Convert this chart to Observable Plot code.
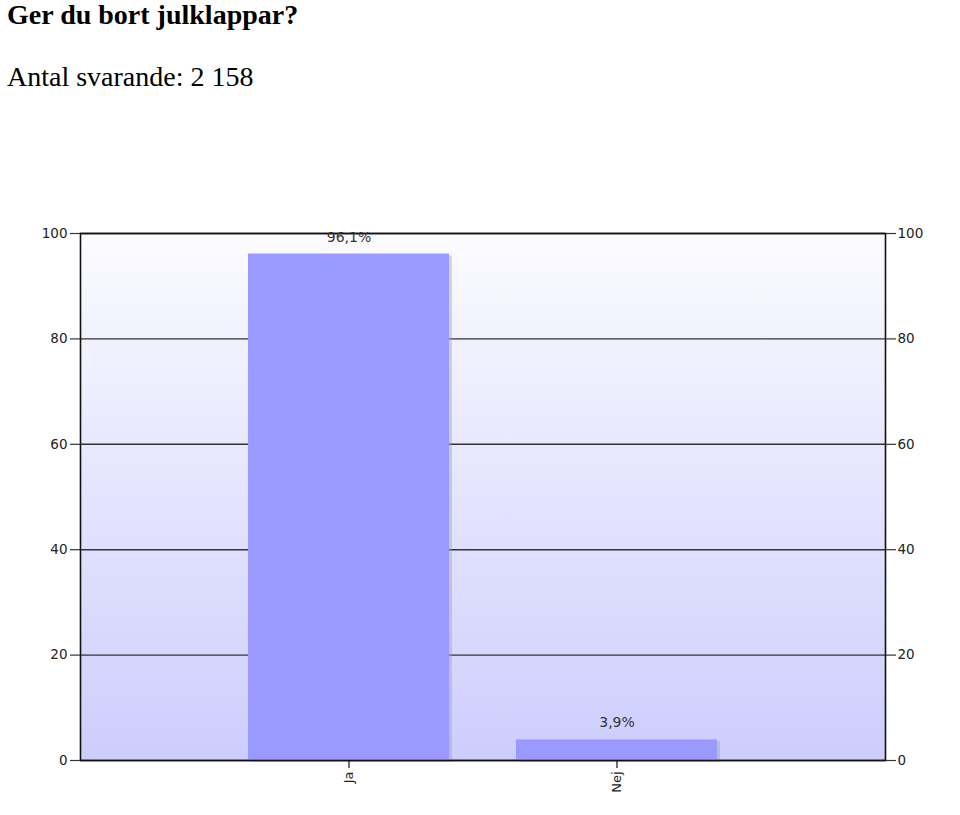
<!DOCTYPE html>
<html>
<head>
<meta charset="utf-8">
<script src="https://cdn.jsdelivr.net/npm/d3@7"></script>
<script src="https://cdn.jsdelivr.net/npm/@observablehq/plot@0.6"></script>
<style>
  html, body { margin: 0; padding: 0; background: #fff; width: 960px; height: 815px; overflow: hidden; }
  #title { position: absolute; left: 7px; top: 1px; font-family: "Liberation Serif", "Times New Roman", serif; font-weight: bold; font-size: 28px; line-height: 28px; margin: 0; white-space: nowrap; }
  #subtitle { position: absolute; left: 7px; top: 63px; font-family: "Liberation Serif", "Times New Roman", serif; font-size: 28px; line-height: 28px; margin: 0; white-space: nowrap; }
  #chart { position: absolute; left: 0; top: 200px; }
</style>
</head>
<body>
<h1 id="title">Ger du bort julklappar?</h1>
<p id="subtitle">Antal svarande: 2 158</p>
<div id="chart"></div>
<script>
const categories = ["Ja", "Nej"];
const values = [96.1, 3.9];
const yTicks = [0, 20, 40, 60, 80, 100];

const data = categories.map((c, i) => ({category: c, value: values[i]}));
const fmt = v => d3.format(".1f")(v).replace(".", ",") + "%";
const font = "'DejaVu Sans', Verdana, sans-serif";

const svg = Plot.plot({
  width: 960,
  height: 615,
  marginLeft: 80,
  marginRight: 75,
  marginTop: 33,
  marginBottom: 55,
  style: {fontFamily: font, fontSize: "13.5px", color: "#222", background: "transparent"},
  x: {domain: categories, paddingInner: 0.25, paddingOuter: 0.625, label: null},
  y: {domain: [0, 100], label: null},
  marks: [
    Plot.frame({fill: "url(#bgGrad)", stroke: null}),
    Plot.ruleY(yTicks, {stroke: "#333", strokeWidth: 1.4}),
    Plot.barY(data, {x: "category", y: "value", fill: "#9a9aa8", fillOpacity: 0.4, dx: 3, dy: 2}),
    Plot.barY(data, {x: "category", y: "value", fill: "#9999ff"}),
    Plot.frame({stroke: "#111", strokeWidth: 1.6}),
    Plot.text(data, {x: "category", y: "value", text: d => fmt(d.value), dy: -17, fill: "#333", fontSize: 14, fontFamily: font}),
    Plot.axisY(yTicks, {anchor: "left", tickSize: 10, tickPadding: 3, stroke: "#333", strokeWidth: 1.2, label: null}),
    Plot.axisY(yTicks, {anchor: "right", tickSize: 10, tickPadding: 2, stroke: "#333", strokeWidth: 1.2, label: null}),
    Plot.axisX({anchor: "bottom", tickSize: 8, tickPadding: 3, tickRotate: -90, stroke: "#111", strokeWidth: 1.2, fontSize: 13, label: null})
  ]
});

svg.insertAdjacentHTML("afterbegin",
  '<defs><linearGradient id="bgGrad" x1="0" y1="0" x2="0" y2="1">' +
  '<stop offset="0" stop-color="#fbfbff"/>' +
  '<stop offset="1" stop-color="#cdcdfd"/>' +
  '</linearGradient></defs>');

document.getElementById("chart").appendChild(svg);
</script>
</body>
</html>
